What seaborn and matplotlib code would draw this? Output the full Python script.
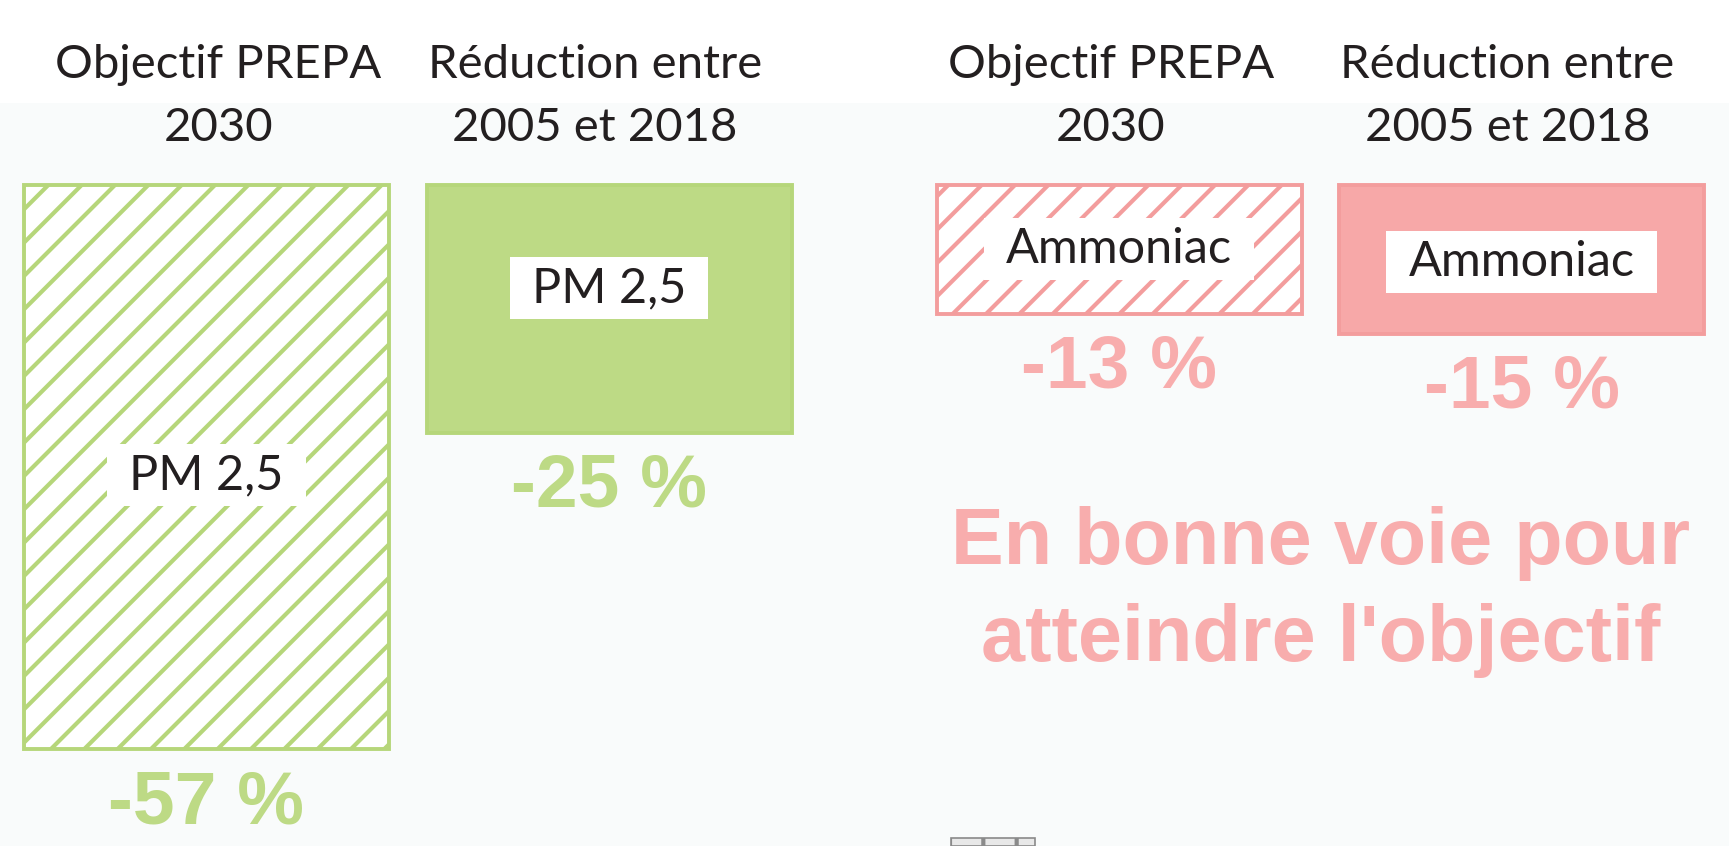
# -*- coding: utf-8 -*-
# objectifs PREPA 2030 vs reduction 2005-2018 (PM 2,5 et ammoniac)

import numpy as np
import pandas as pd
import matplotlib
matplotlib.use("Agg")
import matplotlib.pyplot as plt
from matplotlib.patches import Rectangle
import seaborn as sns

# donnees
entetes = ["Objectif PREPA\n2030", "Réduction entre\n2005 et 2018"]
polluants = ["PM 2,5", "Ammoniac"]
pm25 = [-57, -25]
ammoniac = [-13, -15]
message = "En bonne voie pour\natteindre l'objectif"

# couleurs
vert = "#bdda85"
vert_bord = "#b6d67a"
rose = "#f7a8a8"
rose_bord = "#f39d9d"
rose_txt = "#f8adad"
noir = "#231f20"

sns.set_theme(style="white")
plt.rcParams["font.family"] = ["Lato", "DejaVu Sans"]
plt.rcParams["hatch.linewidth"] = 1.5

W, H, DPI = 1729, 846, 200
fig = plt.figure(figsize=(W / DPI, H / DPI), dpi=DPI, facecolor="white")

# fond legerement teinte sous le bandeau blanc
fig.add_artist(Rectangle((0, 0), 1, (H - 103) / H, transform=fig.transFigure,
                         facecolor="#f9fbfb", edgecolor="none", zorder=-1))

ylim = (-66.77, 18.69)
pas = 402.5
groupes = [
    (5.25, polluants[0], pm25, vert, vert_bord, vert, [-0.8, 2.1], [0.03, -0.035]),
    (917.75, polluants[1], ammoniac, rose, rose_bord, rose_txt, [0.0, -0.3], [-0.02, -0.035]),
]

etiquettes = []
for x0, nom, valeurs, c_fill, c_edge, c_txt, decal, dx in groupes:
    ax = fig.add_axes([x0 / W, 0, 2 * pas / W, 1])
    df = pd.DataFrame({"periode": entetes, "valeur": valeurs})
    sns.barplot(data=df, x="periode", y="valeur", hue="periode",
                palette={entetes[0]: "white", entetes[1]: c_fill},
                saturation=1, width=365 / pas, errorbar=None, legend=False,
                ax=ax)
    for i, cont in enumerate(ax.containers):
        for p in cont:
            p.set_edgecolor(c_edge)
            p.set_linewidth(1.4)
            if i == 0:
                p.set_hatch("//")
                try:
                    p.set_hatchcolor(c_edge)
                except AttributeError:
                    pass
    ax.set_ylim(*ylim)
    ax.set_xlim(-0.5, 1.5)
    ax.axis("off")
    ax.patch.set_alpha(0)

    for i, v in enumerate(valeurs):
        # entete
        ax.text(i + dx[i], 8.9, entetes[i], ha="center", va="center",
                fontsize=17, color=noir, linespacing=1.62)
        # etiquette polluant
        t = ax.text(i, v / 2 + decal[i], nom, ha="center", va="center",
                    fontsize=17.5, color=noir, zorder=4)
        etiquettes.append((ax, t))
        # valeur
        ax.text(i, v - 5.5, "{} %".format(v), ha="center", va="center",
                fontsize=27, fontweight="bold", color=c_txt,
                family=["Liberation Sans", "DejaVu Sans"])

    if nom == "Ammoniac":
        ax.text(0.5, -41.1, message, ha="center", va="center", fontsize=28.5,
                fontweight="bold", color=rose_txt, linespacing=1.37,
                family=["Liberation Sans", "DejaVu Sans"])

# cadres blancs autour des etiquettes (marge plus large en x qu'en y)
fig.canvas.draw()
rend = fig.canvas.get_renderer()
for ax, t in etiquettes:
    bb = t.get_window_extent(renderer=rend)
    px, py = 22, 9
    ax.add_patch(Rectangle(((bb.x0 - px) / W, (bb.y0 - py) / H),
                           (bb.width + 2 * px) / W, (bb.height + 2 * py) / H,
                           transform=fig.transFigure, facecolor="white",
                           edgecolor="none", zorder=3))

# petit pictogramme coupe en bas
fig.add_artist(Rectangle((951 / W, 0), 84 / W, 8 / H, transform=fig.transFigure,
                         facecolor="#e8e8e8", edgecolor="#8a8a8a", hatch="|",
                         linewidth=0.6))

fig.savefig("out.png", dpi=DPI)
plt.close()
